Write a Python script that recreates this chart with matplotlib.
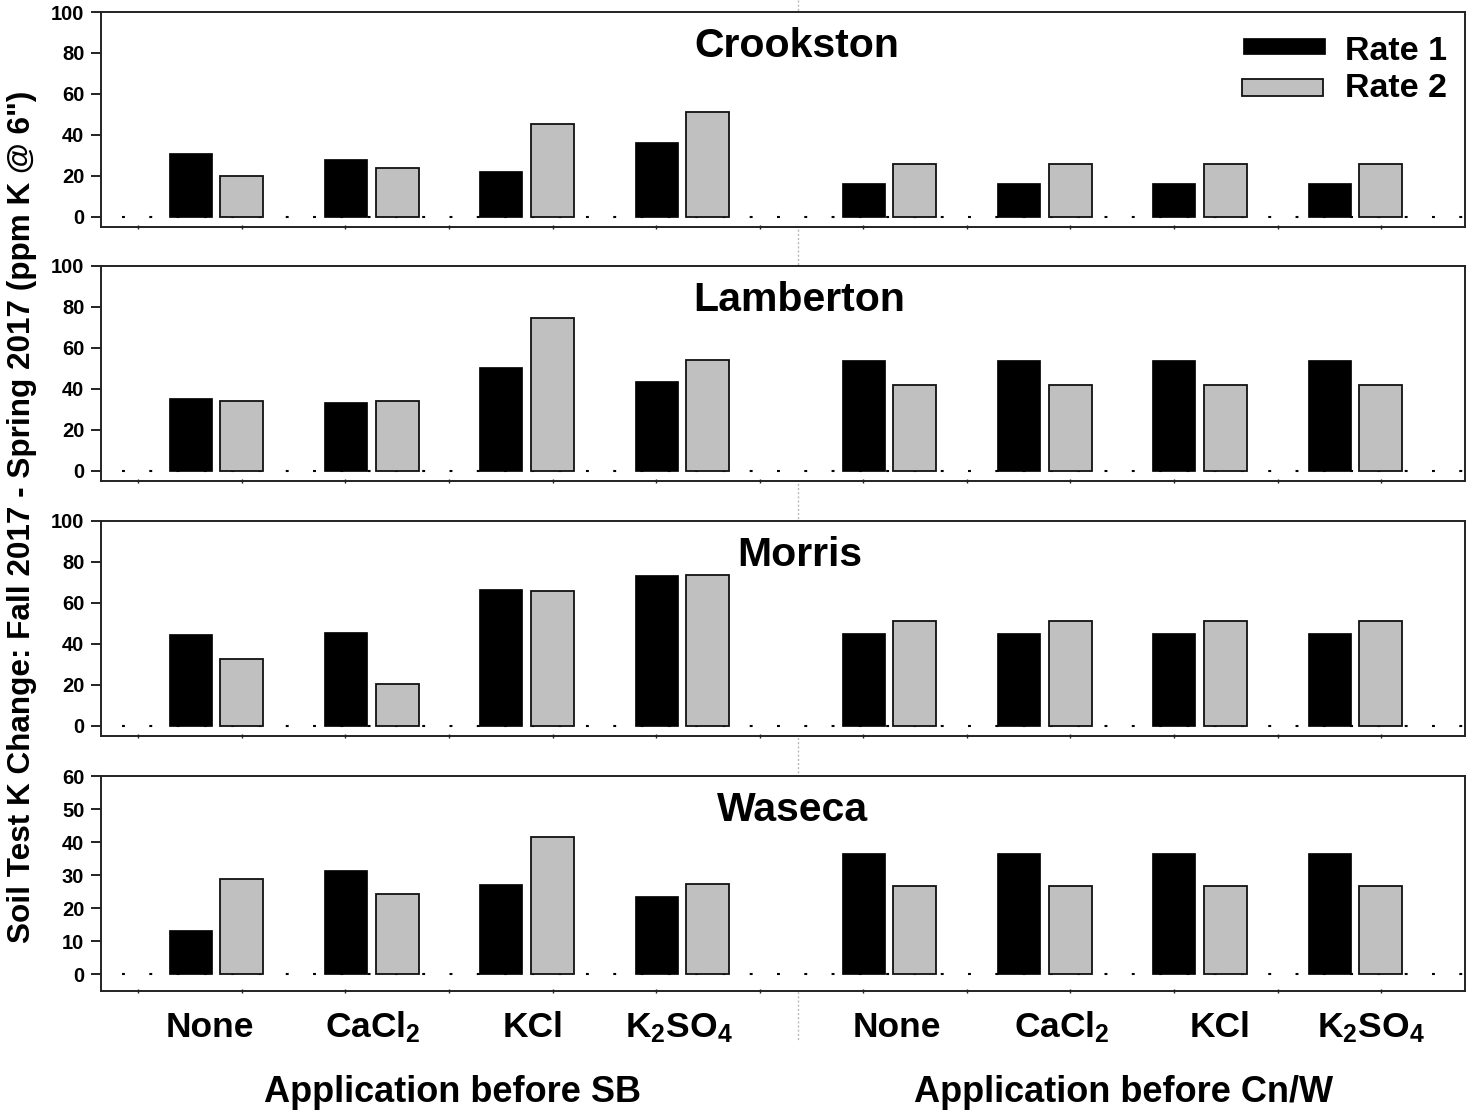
import matplotlib
matplotlib.use("Agg")
import matplotlib.pyplot as plt
from matplotlib.patches import Rectangle
from matplotlib.lines import Line2D
import numpy as np

plt.rcParams['font.family'] = ['Liberation Sans', 'DejaVu Sans']
plt.rcParams['font.weight'] = 'bold'
plt.rcParams['mathtext.fontset'] = 'custom'
plt.rcParams['mathtext.rm'] = 'Liberation Sans:bold'
plt.rcParams['mathtext.it'] = 'Liberation Sans:bold'
plt.rcParams['mathtext.bf'] = 'Liberation Sans:bold'

# ---------------- data ----------------
categories = ['None', 'CaCl$_2$', 'KCl', 'K$_2$SO$_4$',
              'None', 'CaCl$_2$', 'KCl', 'K$_2$SO$_4$']
groups = ['Application before SB', 'Application before Cn/W']
sites = ['Crookston', 'Lamberton', 'Morris', 'Waseca']
series = ['Rate 1', 'Rate 2']

crookston_r1 = [31.1, 28.1, 22.3, 36.4, 16.3, 16.3, 16.3, 16.3]
crookston_r2 = [20.1, 23.6, 45.2, 51.1, 25.6, 25.6, 25.6, 25.6]
lamberton_r1 = [35.7, 33.8, 50.6, 43.9, 54.3, 54.3, 54.3, 54.3]
lamberton_r2 = [34.1, 33.9, 74.6, 54.3, 42.0, 42.0, 42.0, 42.0]
morris_r1 = [44.9, 45.9, 66.7, 73.5, 45.4, 45.4, 45.4, 45.4]
morris_r2 = [32.8, 20.6, 65.9, 73.8, 51.2, 51.2, 51.2, 51.2]
waseca_r1 = [13.3, 31.7, 27.2, 23.7, 36.8, 36.8, 36.8, 36.8]
waseca_r2 = [28.8, 24.2, 41.7, 27.5, 26.8, 26.8, 26.8, 26.8]

site_data = [(crookston_r1, crookston_r2), (lamberton_r1, lamberton_r2),
             (morris_r1, morris_r2), (waseca_r1, waseca_r2)]
ymax = [100, 100, 100, 60]
ystep = [20, 20, 20, 10]

# ---------------- layout ----------------
W, H = 1472, 1111
fig = plt.figure(figsize=(W / 100, H / 100), dpi=100)

def fx(px):
    return px / W

def fy(py):
    return 1 - py / H

panel_px = [(12, 227), (266, 481), (521, 736), (776, 991)]
left_px, right_px = 101, 1465

xpos = np.array([0, 1, 2, 3, 4.332, 5.332, 6.332, 7.332])
off = 0.166
bw = 0.277
xlim = (-0.74, 8.04)
xticks_minor = -0.5 + np.arange(13) * (2 / 3)

title_base_px = [57, 311, 566, 821]
title_x_px = [797, 799, 800, 793]

black = '#000000'
grey = '#c0c0c0'
spine_col = '#222222'

axes = []
for i, (top, bot) in enumerate(panel_px):
    ax = fig.add_axes([fx(left_px), fy(bot), fx(right_px - left_px), (bot - top) / H])
    r1, r2 = site_data[i]
    ax.bar(xpos - off, r1, width=bw, color=black, edgecolor=black, linewidth=0.5, zorder=3)
    ax.bar(xpos + off, r2, width=bw, color=grey, edgecolor='#111111', linewidth=1.3, zorder=3)
    ax.set_xlim(*xlim)
    ax.set_ylim(-5, ymax[i])
    ax.set_yticks(np.arange(0, ymax[i] + 1, ystep[i]))
    ax.tick_params(axis='y', direction='out', length=7, width=1.4, pad=5,
                   labelsize=14.5, colors=spine_col, labelcolor='black')
    ax.set_xticks(xticks_minor)
    ax.set_xticklabels([])
    ax.tick_params(axis='x', direction='inout', length=3, width=1.0, colors=spine_col)
    for s in ax.spines.values():
        s.set_color(spine_col)
        s.set_linewidth(1.4)
    for lab in ax.get_yticklabels():
        lab.set_fontweight('bold')
    # dotted zero line
    ax.axhline(0, xmin=(122 - left_px) / (right_px - left_px), color='black',
               linewidth=1.5, linestyle=(0, (1.4, 11.7)), zorder=2,
               dash_capstyle='butt')
    fig.text(fx(title_x_px[i]), fy(title_base_px[i]), sites[i], fontsize=29.5,
             fontweight='bold', ha='center', va='baseline')
    axes.append(ax)

# vertical dotted divider
fig.add_artist(Line2D([fx(798), fx(798)], [fy(0), fy(1040)], color='#b8b8b8',
                      linewidth=1.0, linestyle=(0, (1.5, 1.5)), zorder=0))

# category labels
label_shift = [-0.04, 0.01, 0.04, -0.02, 0.05, 0.11, 0.13, 0.10]
for x, lab, sh in zip(xpos, categories, label_shift):
    fig.text(fx(left_px + (x + sh - xlim[0]) / (xlim[1] - xlim[0]) * (right_px - left_px)),
             fy(1037), lab, fontsize=25.5, fontweight='bold', ha='center', va='baseline')

fig.text(fx(453), fy(1102), groups[0], fontsize=26, fontweight='bold',
         ha='center', va='baseline')
fig.text(fx(1123.5), fy(1102), groups[1], fontsize=26, fontweight='bold',
         ha='center', va='baseline')

# y label
fig.text(fx(22), fy(517), 'Soil Test K Change: Fall 2017 - Spring 2017 (ppm K @ 6")',
         fontsize=22.7, fontweight='bold', rotation=90, ha='center', va='center')

# legend (manual)
fig.add_artist(Rectangle((fx(1243), fy(54)), fx(82), 16 / H, facecolor=black,
                         edgecolor=black, linewidth=0.5, transform=fig.transFigure))
fig.add_artist(Rectangle((fx(1242), fy(96)), fx(81), 17 / H, facecolor=grey,
                         edgecolor='#111111', linewidth=1.3, transform=fig.transFigure))
fig.text(fx(1345), fy(60), series[0], fontsize=24.5, fontweight='bold', ha='left', va='baseline')
fig.text(fx(1345), fy(97), series[1], fontsize=24.5, fontweight='bold', ha='left', va='baseline')

fig.savefig('out.png', dpi=100, facecolor='white')
